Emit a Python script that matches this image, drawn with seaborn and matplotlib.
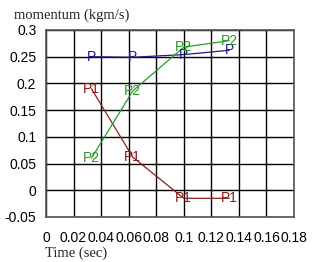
import numpy as np
import pandas as pd
import matplotlib
matplotlib.use("Agg")
import matplotlib.pyplot as plt
import seaborn as sns

# data
time_s = [0.033, 0.063, 0.100, 0.133]
p_total = [0.250, 0.249, 0.254, 0.262]
p1 = [0.190, 0.062, -0.015, -0.015]
p2 = [0.060, 0.186, 0.268, 0.280]

series_names = ["P", "P1", "P2"]
series_vals = [p_total, p1, p2]
colors = {"P": "#1c1c8c", "P1": "#8c1c1c", "P2": "#2a9a2a"}

x_ticks = [0, 0.02, 0.04, 0.06, 0.08, 0.1, 0.12, 0.14, 0.16, 0.18]
x_labels = ["0", "0.02", "0.04", "0.06", "0.08", "0.1", "0.12", "0.14", "0.16", "0.18"]
y_ticks = [-0.05, 0, 0.05, 0.1, 0.15, 0.2, 0.25, 0.3]
y_labels = ["-0.05", "0", "0.05", "0.1", "0.15", "0.2", "0.25", "0.3"]

df = pd.DataFrame({
    "Time": time_s * 3,
    "Momentum": p_total + p1 + p2,
    "Series": [s for s in series_names for _ in time_s],
})

sns.set_style("white")
plt.rcParams["font.family"] = ["Liberation Sans", "DejaVu Sans"]

fig = plt.figure(figsize=(3.15, 2.62), dpi=100)
ax = fig.add_axes([46 / 315, 1 - 217 / 262, 248 / 315, 187 / 262])

sns.lineplot(data=df, x="Time", y="Momentum", hue="Series", palette=colors,
             linewidth=0.9, legend=False, ax=ax, zorder=3)

for name, vals in zip(series_names, series_vals):
    for t, v in zip(time_s, vals):
        ax.text(t, v, name, color=colors[name], fontsize=10,
                ha="center", va="center", zorder=4)

ax.set_xlim(0, 0.18)
ax.set_ylim(-0.05, 0.3)
ax.set_xticks(x_ticks)
ax.set_xticklabels(x_labels)
ax.set_yticks(y_ticks)
ax.set_yticklabels(y_labels)
ax.tick_params(axis="both", length=0, labelsize=10, colors="black")
ax.tick_params(axis="x", pad=10)
ax.tick_params(axis="y", pad=7)
ax.grid(True, color="black", linewidth=1.0)
ax.set_axisbelow(True)
for sp in ax.spines.values():
    sp.set_visible(True)
    sp.set_color("#555555")
    sp.set_linewidth(1.2)
ax.set_xlabel("")
ax.set_ylabel("")

fig.text(14 / 315, 1 - 15 / 262, "momentum (kgm/s)", fontsize=10.5,
         family="Liberation Serif", ha="left", va="center")
fig.text(45 / 315, 1 - 253 / 262, "Time (sec)", fontsize=10.5,
         family="Liberation Serif", ha="left", va="center")

fig.savefig("out.png", dpi=100)
